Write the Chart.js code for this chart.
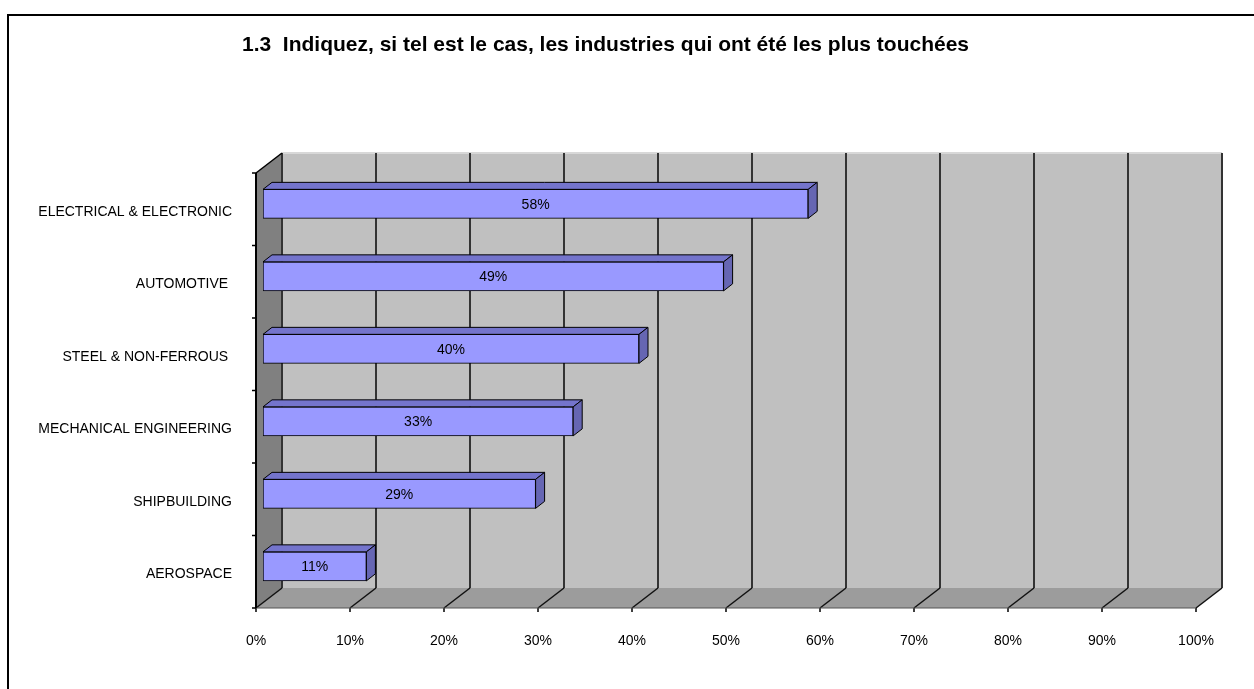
<!DOCTYPE html>
<html lang="fr">
<head>
<meta charset="UTF-8">
<title>Industries les plus touchées</title>
<script src="https://cdn.jsdelivr.net/npm/chart.js"></script>
<style>
  html, body { margin: 0; padding: 0; background: #fff; }
  #wrap { width: 1254px; height: 689px; position: relative; }
</style>
</head>
<body>
<div id="wrap"><canvas id="graf"></canvas></div>
<script>
// donnees
const categorias = ['ELECTRICAL & ELECTRONIC', 'AUTOMOTIVE ', 'STEEL & NON-FERROUS ', 'MECHANICAL ENGINEERING', 'SHIPBUILDING', 'AEROSPACE'];
const valores = [58, 49, 40, 33, 29, 11];
const ticksX = [0, 10, 20, 30, 40, 50, 60, 70, 80, 90, 100];
const titulo = '1.3  Indiquez, si tel est le cas, les industries qui ont été les plus touchées';

// decalages de la perspective 3D (px)
const frente = { dx: -7, dy: 5.4 };
const fundo = { dx: 19, dy: -14.6 };
const prof = { dx: 9, dy: -7 };
const fonte = 'Arial, "Liberation Sans"';

const cena3d = {
    id: 'cena3d',
    beforeDraw(chart) {
        const ctx = chart.ctx;
        ctx.save();
        ctx.fillStyle = '#fff';
        ctx.fillRect(0, 0, chart.width, chart.height);
        // cadre
        ctx.strokeStyle = '#000';
        ctx.lineWidth = 2;
        ctx.beginPath();
        ctx.moveTo(8, chart.height + 5);
        ctx.lineTo(8, 15);
        ctx.lineTo(chart.width + 5, 15);
        ctx.stroke();
        ctx.restore();
    },
    beforeDatasetsDraw(chart) {
        const ctx = chart.ctx;
        const x = chart.scales.x;
        const a = chart.chartArea;
        const x0 = x.getPixelForValue(0), x1 = x.getPixelForValue(100);
        ctx.save();

        // parede do fundo
        ctx.fillStyle = '#c0c0c0';
        ctx.fillRect(x0 + fundo.dx, a.top + fundo.dy, x1 - x0, a.bottom - a.top);
        ctx.strokeStyle = '#d8d8d8';
        ctx.lineWidth = 2;
        ctx.beginPath();
        ctx.moveTo(x0 + fundo.dx, a.top + fundo.dy);
        ctx.lineTo(x1 + fundo.dx, a.top + fundo.dy);
        ctx.stroke();

        // parede esquerda
        ctx.fillStyle = '#808080';
        ctx.beginPath();
        ctx.moveTo(x0 + frente.dx, a.top + frente.dy);
        ctx.lineTo(x0 + fundo.dx, a.top + fundo.dy);
        ctx.lineTo(x0 + fundo.dx, a.bottom + fundo.dy);
        ctx.lineTo(x0 + frente.dx, a.bottom + frente.dy);
        ctx.closePath();
        ctx.fill();

        // chao
        ctx.fillStyle = '#9c9c9c';
        ctx.beginPath();
        ctx.moveTo(x0 + frente.dx, a.bottom + frente.dy);
        ctx.lineTo(x1 + frente.dx, a.bottom + frente.dy);
        ctx.lineTo(x1 + fundo.dx, a.bottom + fundo.dy);
        ctx.lineTo(x0 + fundo.dx, a.bottom + fundo.dy);
        ctx.closePath();
        ctx.fill();

        // linhas de grade
        ticksX.forEach(function (v) {
            const px = x.getPixelForValue(v);
            ctx.strokeStyle = '#333';
            ctx.lineWidth = 2;
            ctx.beginPath();
            ctx.moveTo(px + fundo.dx, a.top + fundo.dy);
            ctx.lineTo(px + fundo.dx, a.bottom + fundo.dy);
            ctx.stroke();
            ctx.strokeStyle = '#111';
            ctx.lineWidth = 1.5;
            ctx.beginPath();
            ctx.moveTo(px + fundo.dx, a.bottom + fundo.dy);
            ctx.lineTo(px + frente.dx, a.bottom + frente.dy);
            ctx.stroke();
            // tick
            ctx.strokeStyle = '#000';
            ctx.lineWidth = 1.5;
            ctx.beginPath();
            ctx.moveTo(px + frente.dx, a.bottom + frente.dy);
            ctx.lineTo(px + frente.dx, a.bottom + frente.dy + 4);
            ctx.stroke();
        });

        // bordas
        ctx.strokeStyle = '#000';
        ctx.lineWidth = 1.5;
        ctx.beginPath();
        ctx.moveTo(x0 + frente.dx, a.top + frente.dy);
        ctx.lineTo(x0 + fundo.dx, a.top + fundo.dy);
        ctx.stroke();
        ctx.strokeStyle = '#555';
        ctx.lineWidth = 1;
        ctx.beginPath();
        ctx.moveTo(x0 + frente.dx, a.bottom + frente.dy);
        ctx.lineTo(x1 + frente.dx, a.bottom + frente.dy);
        ctx.stroke();
        ctx.strokeStyle = '#000';
        ctx.lineWidth = 2;
        ctx.beginPath();
        ctx.moveTo(x0 + frente.dx, a.top + frente.dy);
        ctx.lineTo(x0 + frente.dx, a.bottom + frente.dy);
        ctx.stroke();

        // ticks das categorias
        const passo = (a.bottom - a.top) / categorias.length;
        ctx.lineWidth = 1.5;
        for (let i = 0; i <= categorias.length; i++) {
            const py = a.top + frente.dy + passo * i;
            ctx.beginPath();
            ctx.moveTo(x0 + frente.dx - 4, py);
            ctx.lineTo(x0 + frente.dx, py);
            ctx.stroke();
        }
        ctx.restore();
    },
    afterDatasetsDraw(chart) {
        const ctx = chart.ctx;
        const meta = chart.getDatasetMeta(0);
        ctx.save();
        ctx.lineWidth = 1;
        ctx.strokeStyle = '#000';
        meta.data.forEach(function (bar, i) {
            const esq = bar.base, dir = bar.x;
            const topo = bar.y - bar.height / 2, baixo = bar.y + bar.height / 2;
            // face de cima
            ctx.fillStyle = '#7474cc';
            ctx.beginPath();
            ctx.moveTo(esq, topo);
            ctx.lineTo(esq + prof.dx, topo + prof.dy);
            ctx.lineTo(dir + prof.dx, topo + prof.dy);
            ctx.lineTo(dir, topo);
            ctx.closePath();
            ctx.fill();
            ctx.stroke();
            // face lateral
            ctx.fillStyle = '#6666b3';
            ctx.beginPath();
            ctx.moveTo(dir, topo);
            ctx.lineTo(dir + prof.dx, topo + prof.dy);
            ctx.lineTo(dir + prof.dx, baixo + prof.dy);
            ctx.lineTo(dir, baixo);
            ctx.closePath();
            ctx.fill();
            ctx.stroke();
            // rotulo
            ctx.fillStyle = '#000';
            ctx.font = '14px ' + fonte;
            ctx.textAlign = 'center';
            ctx.textBaseline = 'middle';
            ctx.fillText(valores[i] + '%', (esq + dir) / 2, bar.y + 1);
        });
        ctx.restore();
    }
};

new Chart(document.getElementById('graf'), {
    type: 'bar',
    data: {
        labels: categorias,
        datasets: [{
            data: valores,
            backgroundColor: '#9999ff',
            borderColor: '#000',
            borderWidth: 1,
            borderSkipped: false,
            barThickness: 29
        }]
    },
    options: {
        indexAxis: 'y',
        responsive: true,
        maintainAspectRatio: false,
        animation: false,
        layout: { padding: { left: 8, right: 51, top: 0, bottom: 0 } },
        plugins: {
            legend: { display: false },
            tooltip: { enabled: false },
            title: {
                display: true,
                text: titulo,
                color: '#000',
                font: { family: fonte, size: 21, weight: 'bold', lineHeight: 1.2 },
                padding: { top: 32.4, bottom: 110 }
            }
        },
        scales: {
            x: {
                min: 0,
                max: 100,
                afterFit: function (s) { s.height = 86.4; },
                grid: { display: false, drawTicks: false },
                border: { display: false },
                ticks: {
                    stepSize: 10,
                    padding: 30,
                    labelOffset: -7,
                    color: '#000',
                    font: { family: fonte, size: 14 },
                    callback: function (v) { return v + '%'; }
                }
            },
            y: {
                afterFit: function (s) { s.width = 255; },
                grid: { display: false, drawTicks: false },
                border: { display: false },
                ticks: {
                    padding: 31,
                    labelOffset: 8,
                    color: '#000',
                    font: { family: fonte, size: 14 }
                }
            }
        }
    },
    plugins: [cena3d]
});
</script>
</body>
</html>
